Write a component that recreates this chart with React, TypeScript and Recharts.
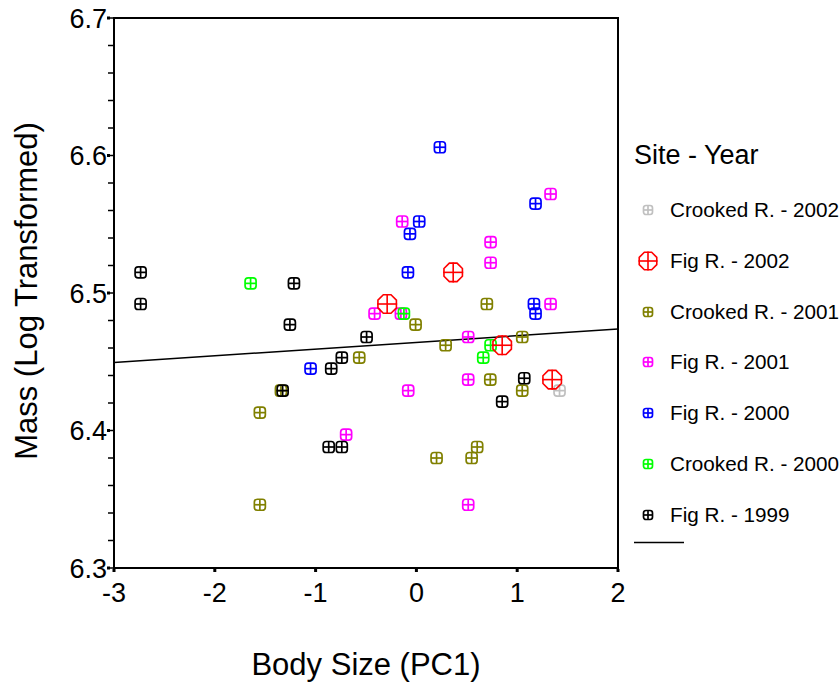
import { ReferenceArea, ReferenceLine, Scatter, ScatterChart, XAxis, YAxis } from "recharts"

type Pt = [number, number]

// body size (PC1), log mass
const crooked2002: Pt[] = [[1.42, 6.429]]
const fig2002: Pt[] = [[0.365, 6.515], [-0.29, 6.492], [0.851, 6.462], [1.347, 6.437]]
const crooked2001: Pt[] = [
  [-1.344, 6.429], [-1.553, 6.413], [-1.553, 6.346], [-0.567, 6.453], [-0.008, 6.477],
  [0.699, 6.492], [0.29, 6.462], [1.05, 6.468], [0.733, 6.437], [1.05, 6.429],
  [0.603, 6.388], [0.548, 6.38], [0.2, 6.38],
]
const fig2001: Pt[] = [
  [1.331, 6.572], [-0.141, 6.552], [0.736, 6.537], [0.736, 6.522], [-0.415, 6.485],
  [-0.154, 6.485], [1.331, 6.492], [0.514, 6.468], [0.514, 6.437], [-0.081, 6.429],
  [-0.697, 6.397], [0.514, 6.346],
]
const fig2000: Pt[] = [
  [0.233, 6.606], [1.182, 6.565], [0.028, 6.552], [-0.064, 6.543], [-0.084, 6.515],
  [1.166, 6.492], [1.182, 6.485], [-1.05, 6.445],
]
const crooked2000: Pt[] = [[-1.645, 6.507], [-0.124, 6.485], [0.736, 6.462], [0.663, 6.453]]
const fig1999: Pt[] = [
  [-2.736, 6.515], [-2.736, 6.492], [-1.215, 6.507], [-1.255, 6.477], [-0.494, 6.468],
  [-0.74, 6.453], [-0.845, 6.445], [-1.327, 6.429], [-0.87, 6.388], [-0.74, 6.388],
  [1.07, 6.438], [0.851, 6.421],
]

// fitted line across the x range
const fitLine: Pt[] = [[-3, 6.4495], [2, 6.4738]]

const xTicks = [-3, -2, -1, 0, 1, 2]
const yTicks = [
  6.3, 6.32, 6.34, 6.36, 6.38, 6.4, 6.42, 6.44, 6.46, 6.48, 6.5,
  6.52, 6.54, 6.56, 6.58, 6.6, 6.62, 6.64, 6.66, 6.68, 6.7,
]
const yLabelled = [6.3, 6.4, 6.5, 6.6, 6.7]

const FONT = "Arial, 'Liberation Sans', Helvetica, sans-serif"
const TICK_FONT = 27

interface Group {
  name: string
  color: string
  big?: boolean
  points: Pt[]
}

const gCrooked2002: Group = { name: "Crooked R. - 2002", color: "#c0c0c0", points: crooked2002 }
const gFig2002: Group = { name: "Fig R. - 2002", color: "#ff0000", big: true, points: fig2002 }
const gCrooked2001: Group = { name: "Crooked R. - 2001", color: "#808000", points: crooked2001 }
const gFig2001: Group = { name: "Fig R. - 2001", color: "#ff00ff", points: fig2001 }
const gFig2000: Group = { name: "Fig R. - 2000", color: "#0000ff", points: fig2000 }
const gCrooked2000: Group = { name: "Crooked R. - 2000", color: "#00ff00", points: crooked2000 }
const gFig1999: Group = { name: "Fig R. - 1999", color: "#000000", points: fig1999 }

const legendOrder = [gCrooked2002, gFig2002, gCrooked2001, gFig2001, gFig2000, gCrooked2000, gFig1999]
const drawOrder = [gCrooked2002, gCrooked2001, gFig2001, gFig2000, gCrooked2000, gFig2002, gFig1999]

function SmallMark({ cx, cy, color, h = 5.5 }: { cx: number; cy: number; color: string; h?: number }) {
  return (
    <g stroke={color} strokeWidth={1.7} fill="none">
      <rect x={cx - h} y={cy - h} width={2 * h} height={2 * h} rx={h * 0.55} />
      <line x1={cx - h} y1={cy} x2={cx + h} y2={cy} />
      <line x1={cx} y1={cy - h} x2={cx} y2={cy + h} />
    </g>
  )
}

function BigMark({ cx, cy, color, r = 10 }: { cx: number; cy: number; color: string; r?: number }) {
  const pts = Array.from({ length: 8 }, (_, i) => {
    const a = ((22.5 + 45 * i) * Math.PI) / 180
    return `${cx + r * Math.cos(a)},${cy + r * Math.sin(a)}`
  }).join(" ")
  return (
    <g stroke={color} strokeWidth={1.6} fill="none">
      <polygon points={pts} />
      <line x1={cx - r} y1={cy} x2={cx + r} y2={cy} />
      <line x1={cx} y1={cy - r} x2={cx} y2={cy + r} />
    </g>
  )
}

// y ticks every 0.02; the tenths get a dot and a label
// eslint-disable-next-line @typescript-eslint/no-explicit-any
function YTick(props: any) {
  const { x, y, payload } = props
  const major = yLabelled.some((v) => Math.abs(v - payload.value) < 1e-6)
  const axisX = x + 8
  return (
    <g>
      <line x1={axisX - 6} y1={y} x2={axisX} y2={y} stroke="#000" strokeWidth={1.5} />
      {major && <rect x={axisX - 7} y={y - 1.5} width={3} height={3} fill="#000" />}
      {major && (
        <text x={axisX - 7} y={y} dy="0.36em" textAnchor="end" fontSize={TICK_FONT} fontFamily={FONT} fill="#000">
          {payload.value.toFixed(1)}
        </text>
      )}
    </g>
  )
}

// x ticks: a small square under the axis and the label below it
// eslint-disable-next-line @typescript-eslint/no-explicit-any
function XTick(props: any) {
  const { x, y, payload } = props
  const axisY = y - 10
  return (
    <g>
      <rect x={x - 1.5} y={axisY + 1} width={3} height={3} fill="#000" />
      <text x={x} y={axisY + 24} dy="0.36em" textAnchor="middle" fontSize={TICK_FONT} fontFamily={FONT} fill="#000">
        {payload.value}
      </text>
    </g>
  )
}

export default function App() {
  return (
    <div style={{ position: "absolute", left: 0, top: 0, width: 840, height: 685, background: "#fff" }}>
      <ScatterChart width={840} height={685} margin={{ top: 18, right: 222, bottom: 87, left: 54 }}>
        <XAxis
          type="number"
          dataKey="x"
          domain={[-3, 2]}
          ticks={xTicks}
          interval={0}
          allowDataOverflow
          height={30}
          tickSize={0}
          tickMargin={10}
          tickLine={false}
          axisLine={{ stroke: "#000", strokeWidth: 2 }}
          tick={<XTick />}
        />
        <YAxis
          type="number"
          dataKey="y"
          domain={[6.3, 6.7]}
          ticks={yTicks}
          interval={0}
          allowDataOverflow
          width={60}
          tickSize={6}
          tickMargin={2}
          tickLine={false}
          axisLine={{ stroke: "#000", strokeWidth: 2 }}
          tick={<YTick />}
        />
        <ReferenceArea x1={-3} x2={2} y1={6.3} y2={6.7} fill="none" stroke="#000" strokeWidth={2} />
        {drawOrder.map((g) => (
          <Scatter
            key={g.name}
            name={g.name}
            data={g.points.map(([x, y]) => ({ x, y }))}
            fill={g.color}
            isAnimationActive={false}
            // eslint-disable-next-line @typescript-eslint/no-explicit-any
            shape={(p: any) =>
              g.big ? <BigMark cx={p.cx} cy={p.cy} color={g.color} /> : <SmallMark cx={p.cx} cy={p.cy} color={g.color} />
            }
          />
        ))}
        <ReferenceLine
          segment={fitLine.map(([x, y]) => ({ x, y }))}
          stroke="#000"
          strokeWidth={1.5}
        />
      </ScatterChart>

      {/* axis titles */}
      <div
        style={{
          position: "absolute", left: 366, top: 665, transform: "translate(-50%, -50%)",
          fontFamily: FONT, fontSize: 31, whiteSpace: "nowrap",
        }}
      >
        Body Size (PC1)
      </div>
      <div
        style={{
          position: "absolute", left: 27, top: 291, transform: "translate(-50%, -50%) rotate(-90deg)",
          fontFamily: FONT, fontSize: 31, whiteSpace: "nowrap",
        }}
      >
        Mass (Log Transformed)
      </div>

      {/* legend */}
      <div style={{ position: "absolute", left: 634, top: 155, transform: "translateY(-50%)", fontFamily: FONT, fontSize: 27, whiteSpace: "nowrap" }}>
        Site - Year
      </div>
      {legendOrder.map((g, i) => (
        <div
          key={g.name}
          style={{
            position: "absolute", left: 636, top: 210 + i * 50.8, transform: "translateY(-50%)",
            display: "flex", alignItems: "center", fontFamily: FONT, fontSize: 20.7, whiteSpace: "nowrap",
          }}
        >
          <svg width={24} height={24} style={{ marginRight: 10 }}>
            {g.big ? <BigMark cx={12} cy={12} color={g.color} r={9.5} /> : <SmallMark cx={12} cy={12} color={g.color} h={4.5} />}
          </svg>
          {g.name}
        </div>
      ))}
      <svg style={{ position: "absolute", left: 630, top: 536 }} width={60} height={12}>
        <line x1={4} y1={6.5} x2={54} y2={6.5} stroke="#000" strokeWidth={1.5} />
      </svg>
    </div>
  )
}
